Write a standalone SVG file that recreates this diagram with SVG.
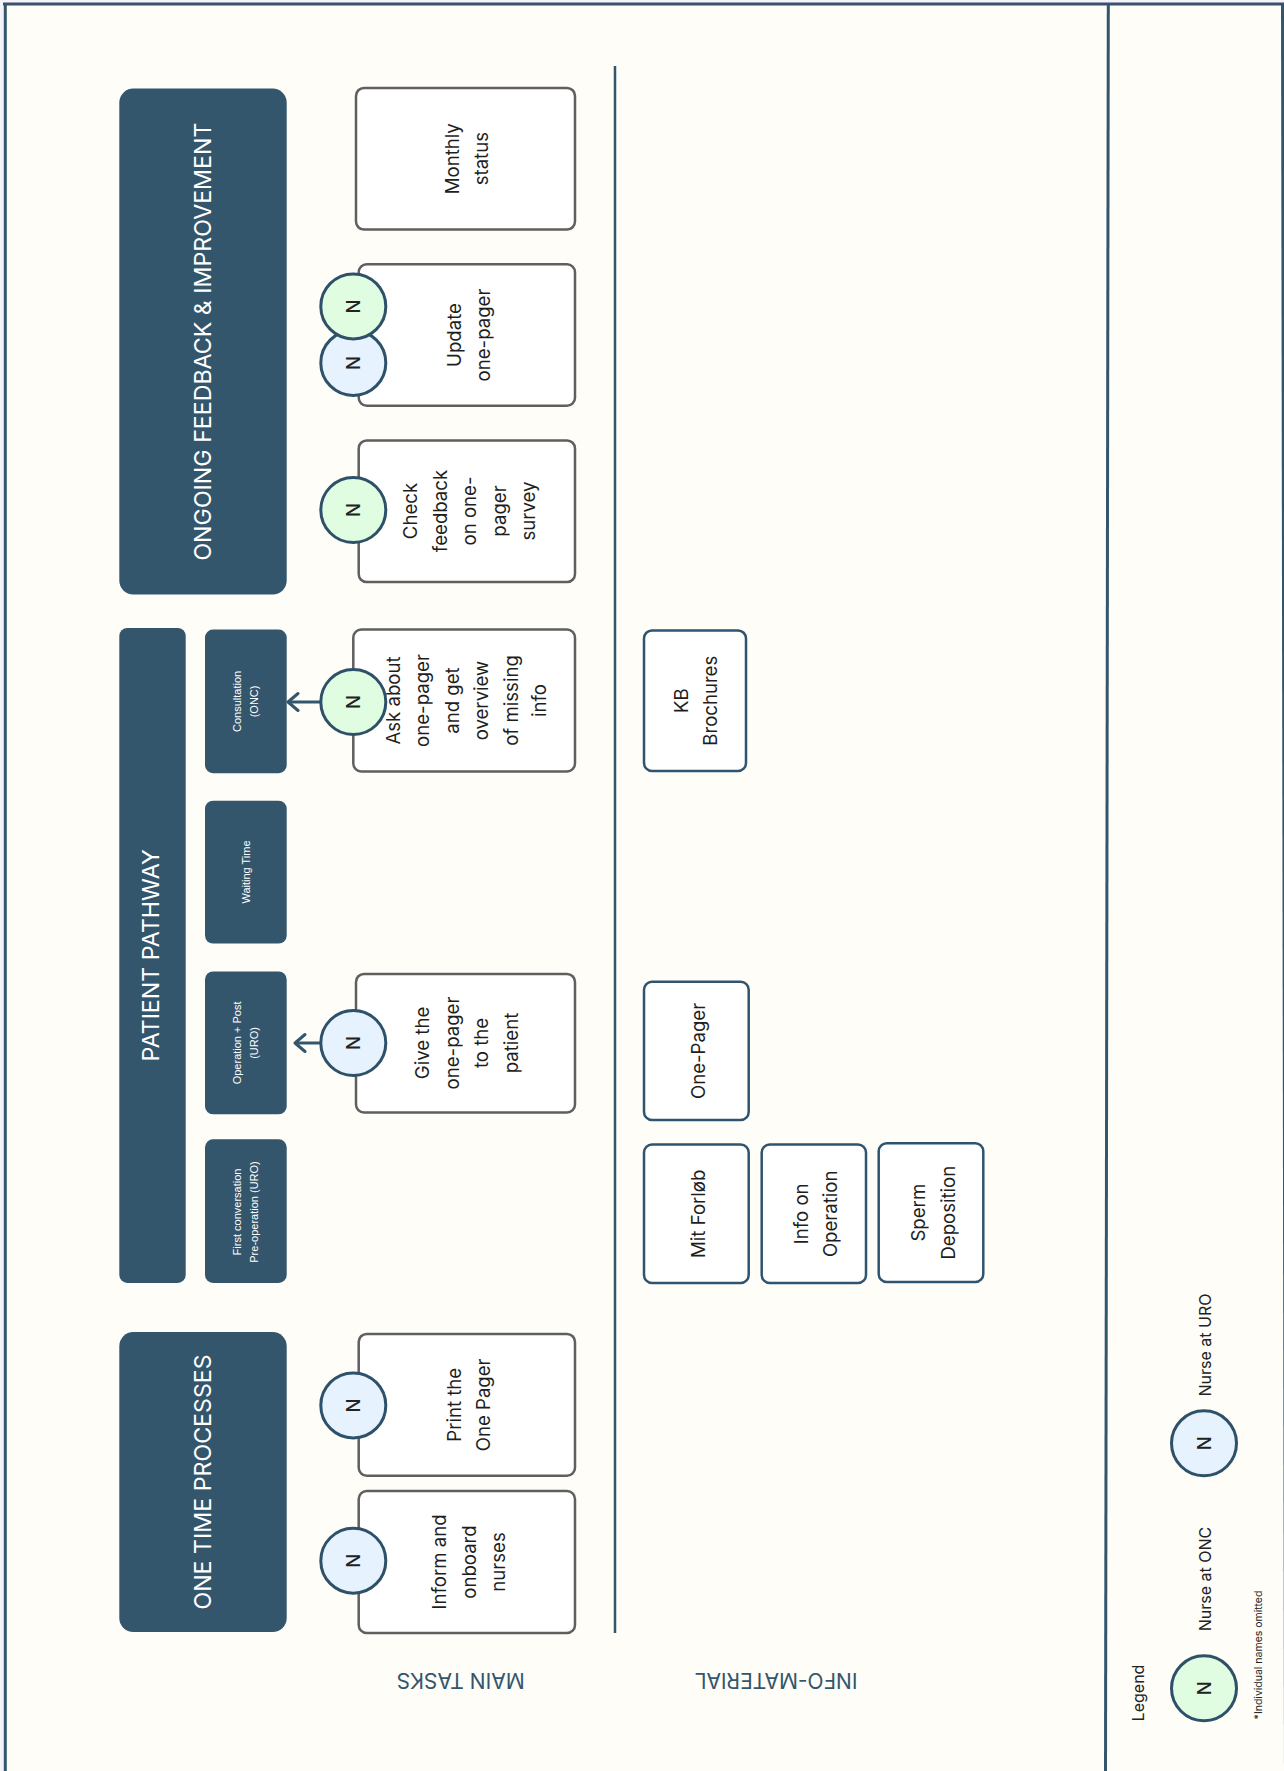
<svg xmlns="http://www.w3.org/2000/svg" width="1284" height="1771" viewBox="0 0 1284 1771">
  <style>
    .hdr { fill: #34566d; }
    .hdr-t { fill: #ffffff; font-family: Inter, "Liberation Sans", sans-serif; font-size: 23.2px; text-anchor: middle; dominant-baseline: central; }
    .sub-t { fill: #ffffff; font-family: "Liberation Sans", Arial, sans-serif; font-size: 11px; text-anchor: middle; dominant-baseline: central; }
    .task { fill: #ffffff; stroke: #5f5f5f; stroke-width: 2.5; }
    .info { fill: #ffffff; stroke: #2f5470; stroke-width: 2.5; }
    .body-t { fill: #1e1e1e; font-family: Inter, "Liberation Sans", sans-serif; font-size: 18.6px; text-anchor: middle; dominant-baseline: central; }
    .nurse-onc { fill: #e0fde1; stroke: #2e5169; stroke-width: 3; }
    .nurse-uro { fill: #e6f2fe; stroke: #2e5169; stroke-width: 3; }
    .n-t { fill: #222222; font-family: Inter, "Liberation Sans", sans-serif; font-size: 18.5px; font-weight: 500; text-anchor: middle; dominant-baseline: central; }
    .lane-t { fill: #34566d; font-family: Inter, "Liberation Sans", sans-serif; font-size: 21px; text-anchor: middle; dominant-baseline: central; }
    .leg-t { fill: #222222; font-family: Inter, "Liberation Sans", sans-serif; font-size: 16px; text-anchor: middle; dominant-baseline: central; }
    .note-t { fill: #222222; font-family: Inter, "Liberation Sans", sans-serif; font-size: 10.5px; text-anchor: middle; dominant-baseline: central; }
    .rule { stroke: #34566d; fill: none; }
    .link { stroke: #34566d; stroke-width: 3; fill: none; }
  </style>
  <defs>
    <marker id="chevron" markerUnits="userSpaceOnUse" markerWidth="14" markerHeight="22" viewBox="0 0 14 22" refX="12" refY="11" orient="auto">
      <path d="M2,2.5 L12,11 L2,19.5" fill="none" stroke="#34566d" stroke-width="3" stroke-linecap="round" stroke-linejoin="round"/>
    </marker>
  </defs>

  <!-- page -->
  <rect x="0" y="0" width="1284" height="1771" fill="#f4f3fb"/>
  <rect x="4" y="4" width="1282" height="1771" fill="#fefdf8"/>
  <g id="frame" class="rule">
    <line x1="3" y1="4" x2="1284" y2="4" stroke-width="3" stroke="#3b506c"/>
    <line x1="5.3" y1="3" x2="5.3" y2="1771" stroke-width="3"/>
    <line x1="1282.5" y1="3" x2="1285.5" y2="1771" stroke-width="3"/>
    <line x1="1108.3" y1="4" x2="1105.5" y2="1771" stroke-width="3"/>
    <line x1="615" y1="66" x2="615" y2="1633" stroke-width="2.5"/>
  </g>

  <!-- lane titles -->
  <g id="lane-labels">
    <text class="lane-t" transform="translate(460.7,1680) rotate(180)">MAIN TASKS</text>
    <text class="lane-t" transform="translate(776,1680) rotate(180)">INFO-MATERIAL</text>
  </g>

  <!-- phase headers -->
  <g id="hdr-ongoing">
    <rect class="hdr" x="119.3" y="88.6" width="167.4" height="506" rx="14"/>
    <text class="hdr-t" transform="translate(203,341.6) rotate(-90)">ONGOING FEEDBACK &amp; IMPROVEMENT</text>
  </g>
  <g id="hdr-pathway">
    <rect class="hdr" x="119.3" y="627.9" width="66.4" height="655" rx="8"/>
    <text class="hdr-t" transform="translate(151,955.4) rotate(-90)">PATIENT PATHWAY</text>
  </g>
  <g id="hdr-onetime">
    <rect class="hdr" x="119.3" y="1332.1" width="167.4" height="300" rx="14"/>
    <text class="hdr-t" transform="translate(203.3,1482) rotate(-90)">ONE TIME PROCESSES</text>
  </g>

  <!-- pathway stages -->
  <g id="stage-consultation">
    <rect class="hdr" x="205" y="629.6" width="81.7" height="143.6" rx="8"/>
    <text class="sub-t" transform="translate(245.7,701.4) rotate(-90)"><tspan x="0" y="-8.3">Consultation</tspan><tspan x="0" y="8.3">(ONC)</tspan></text>
  </g>
  <g id="stage-waiting">
    <rect class="hdr" x="205" y="800.7" width="81.7" height="142.9" rx="8"/>
    <text class="sub-t" transform="translate(245.7,872) rotate(-90)">Waiting Time</text>
  </g>
  <g id="stage-operation">
    <rect class="hdr" x="205" y="971.4" width="81.7" height="142.9" rx="8"/>
    <text class="sub-t" transform="translate(245.7,1042.9) rotate(-90)"><tspan x="0" y="-8.3">Operation + Post</tspan><tspan x="0" y="8.3">(URO)</tspan></text>
  </g>
  <g id="stage-first">
    <rect class="hdr" x="205" y="1139.3" width="81.7" height="143.6" rx="8"/>
    <text class="sub-t" transform="translate(245.7,1212) rotate(-90)"><tspan x="0" y="-8.3">First conversation</tspan><tspan x="0" y="8.3">Pre-operation (URO)</tspan></text>
  </g>

  <!-- main tasks -->
  <g id="task-monthly">
    <rect class="task" x="356" y="87.9" width="219" height="141.7" rx="8"/>
    <text class="body-t" transform="translate(466.5,158.7) rotate(-90)"><tspan x="0" y="-14.75">Monthly</tspan><tspan x="0" y="14.75">status</tspan></text>
  </g>
  <g id="task-update">
    <rect class="task" x="358.7" y="264.3" width="216.3" height="141.4" rx="8"/>
    <text class="body-t" transform="translate(468.7,335) rotate(-90)"><tspan x="0" y="-14.75">Update</tspan><tspan x="0" y="14.75">one-pager</tspan></text>
  </g>
  <g id="task-check">
    <rect class="task" x="358.7" y="440.4" width="216.3" height="141.7" rx="8"/>
    <text class="body-t" transform="translate(469.3,511) rotate(-90)"><tspan x="0" y="-59">Check</tspan><tspan x="0" y="-29.5">feedback</tspan><tspan x="0" y="0">on one-</tspan><tspan x="0" y="29.5">pager</tspan><tspan x="0" y="59">survey</tspan></text>
  </g>
  <g id="task-ask">
    <rect class="task" x="353.3" y="629.6" width="221.7" height="141.8" rx="8"/>
    <text class="body-t" transform="translate(466.3,700.5) rotate(-90)"><tspan x="0" y="-73.5">Ask about</tspan><tspan x="0" y="-44">one-pager</tspan><tspan x="0" y="-14.5">and get</tspan><tspan x="0" y="15">overview</tspan><tspan x="0" y="44.5">of missing</tspan><tspan x="0" y="73">info</tspan></text>
  </g>
  <g id="task-give">
    <rect class="task" x="356" y="973.9" width="219" height="138.6" rx="8"/>
    <text class="body-t" transform="translate(466.3,1043) rotate(-90)"><tspan x="0" y="-44.25">Give the</tspan><tspan x="0" y="-14.75">one-pager</tspan><tspan x="0" y="14.75">to the</tspan><tspan x="0" y="44.25">patient</tspan></text>
  </g>
  <g id="task-print">
    <rect class="task" x="358.7" y="1333.9" width="216.3" height="141.8" rx="8"/>
    <text class="body-t" transform="translate(468.7,1404.8) rotate(-90)"><tspan x="0" y="-14.75">Print the</tspan><tspan x="0" y="14.75">One Pager</tspan></text>
  </g>
  <g id="task-inform">
    <rect class="task" x="358.7" y="1491" width="216.3" height="141.9" rx="8"/>
    <text class="body-t" transform="translate(468.6,1562) rotate(-90)"><tspan x="0" y="-29.5">Inform and</tspan><tspan x="0" y="0">onboard</tspan><tspan x="0" y="29.5">nurses</tspan></text>
  </g>

  <!-- info material -->
  <g id="info-kb">
    <rect class="info" x="644" y="630.4" width="102" height="140.6" rx="8"/>
    <text class="body-t" transform="translate(695.5,700.7) rotate(-90)"><tspan x="0" y="-14.5">KB</tspan><tspan x="0" y="14.5">Brochures</tspan></text>
  </g>
  <g id="info-onepager">
    <rect class="info" x="644" y="981.7" width="104.7" height="138.3" rx="8"/>
    <text class="body-t" transform="translate(698.3,1050.9) rotate(-90)">One-Pager</text>
  </g>
  <g id="info-mitforlob">
    <rect class="info" x="644" y="1144.6" width="104.7" height="138.4" rx="8"/>
    <text class="body-t" transform="translate(698.3,1213.8) rotate(-90)">Mit Forløb</text>
  </g>
  <g id="info-operation">
    <rect class="info" x="761.7" y="1144.6" width="104.3" height="138.4" rx="8"/>
    <text class="body-t" transform="translate(815.5,1213.8) rotate(-90)"><tspan x="0" y="-14.5">Info on</tspan><tspan x="0" y="14.5">Operation</tspan></text>
  </g>
  <g id="info-sperm">
    <rect class="info" x="878.7" y="1143.3" width="104.6" height="138.7" rx="8"/>
    <text class="body-t" transform="translate(933,1212.7) rotate(-90)"><tspan x="0" y="-14.7">Sperm</tspan><tspan x="0" y="14.7">Deposition</tspan></text>
  </g>

  <!-- connectors -->
  <g id="connectors">
    <line class="link" x1="321" y1="702" x2="288" y2="702" marker-end="url(#chevron)"/>
    <line class="link" x1="321" y1="1043" x2="295" y2="1043" marker-end="url(#chevron)"/>
  </g>

  <!-- nurse badges -->
  <g id="nurse-update-uro">
    <circle class="nurse-uro" cx="353.3" cy="362.9" r="32.5"/>
    <text class="n-t" transform="translate(353.3,362.9) rotate(-90)">N</text>
  </g>
  <g id="nurse-update-onc">
    <circle class="nurse-onc" cx="353.3" cy="306.4" r="32.5"/>
    <text class="n-t" transform="translate(353.3,306.4) rotate(-90)">N</text>
  </g>
  <g id="nurse-check">
    <circle class="nurse-onc" cx="353.3" cy="510" r="32.5"/>
    <text class="n-t" transform="translate(353.3,510) rotate(-90)">N</text>
  </g>
  <g id="nurse-ask">
    <circle class="nurse-onc" cx="353.3" cy="702" r="32.5"/>
    <text class="n-t" transform="translate(353.3,702) rotate(-90)">N</text>
  </g>
  <g id="nurse-give">
    <circle class="nurse-uro" cx="353.3" cy="1043" r="32.5"/>
    <text class="n-t" transform="translate(353.3,1043) rotate(-90)">N</text>
  </g>
  <g id="nurse-print">
    <circle class="nurse-uro" cx="353.3" cy="1405.4" r="32.5"/>
    <text class="n-t" transform="translate(353.3,1405.4) rotate(-90)">N</text>
  </g>
  <g id="nurse-inform">
    <circle class="nurse-uro" cx="353.3" cy="1560.7" r="32.5"/>
    <text class="n-t" transform="translate(353.3,1560.7) rotate(-90)">N</text>
  </g>

  <!-- legend -->
  <g id="legend">
    <text class="leg-t" transform="translate(1138.3,1693) rotate(-90)">Legend</text>
    <circle class="nurse-onc" cx="1204" cy="1688.3" r="32.5"/>
    <text class="n-t" transform="translate(1204,1688.3) rotate(-90)">N</text>
    <circle class="nurse-uro" cx="1204" cy="1443.3" r="32.5"/>
    <text class="n-t" transform="translate(1204,1443.3) rotate(-90)">N</text>
    <text class="leg-t" transform="translate(1205,1579) rotate(-90)">Nurse at ONC</text>
    <text class="leg-t" transform="translate(1205,1345) rotate(-90)">Nurse at URO</text>
    <text class="note-t" transform="translate(1258.3,1655) rotate(-90)">*Individual names omitted</text>
  </g>
</svg>
